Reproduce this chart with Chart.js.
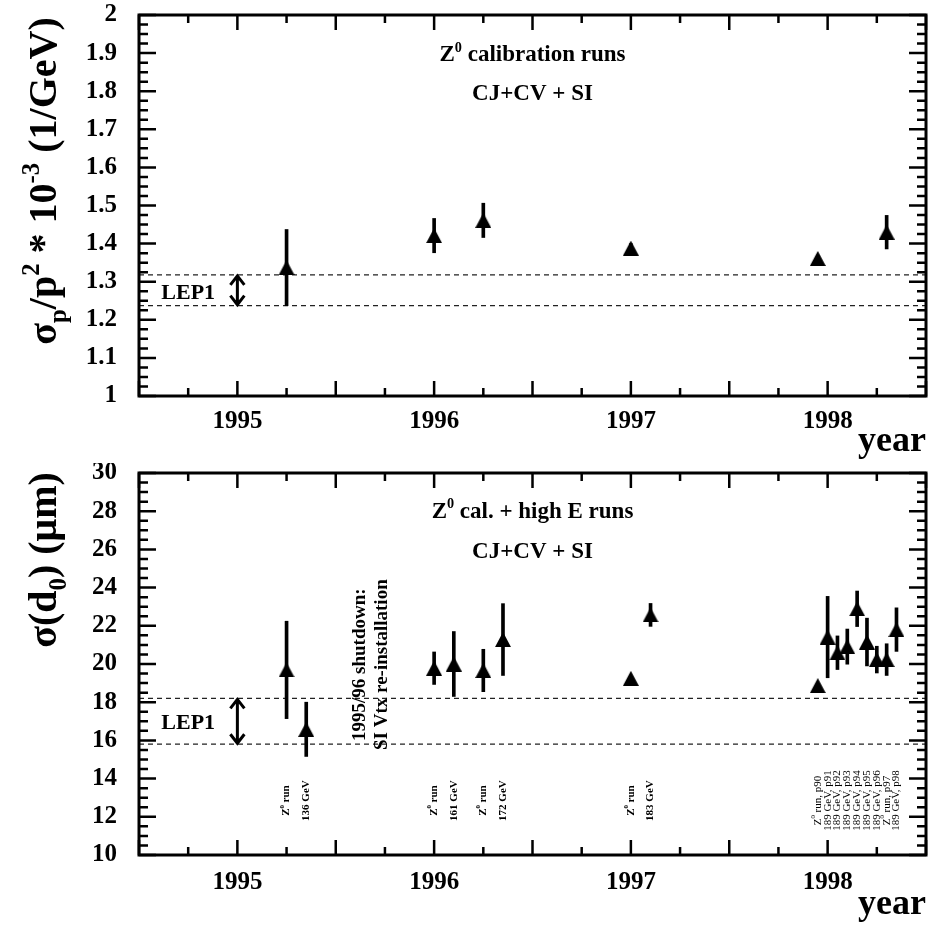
<!DOCTYPE html>
<html lang="en">
<head>
<meta charset="UTF-8">
<title>Resolution vs year</title>
<style>
  body { margin: 0; background: #fff; }
  .panel { position: absolute; left: 0; width: 929px; height: 463px; }
  #topPanel { top: 0; }
  #bottomPanel { top: 463px; }
</style>
</head>
<body>
<div class="panel" id="topPanel"><canvas id="momChart" width="929" height="463"></canvas></div>
<div class="panel" id="bottomPanel"><canvas id="d0Chart" width="929" height="463"></canvas></div>

<script src="https://cdn.jsdelivr.net/npm/chart.js"></script>
<script>
    // ---- data: momentum resolution, Z0 calibration runs ----
    const momYears = [1995.25, 1996.0, 1996.25, 1997.0, 1997.95, 1998.3];
    const momRes   = [1.337, 1.421, 1.461, 1.388, 1.361, 1.430];
    const momErr   = [0.100, 0.045, 0.045, 0.012, 0.008, 0.044];
    const momLep1  = [1.237, 1.318];
    const momTicks = [1, 1.1, 1.2, 1.3, 1.4, 1.5, 1.6, 1.7, 1.8, 1.9, 2];

    // ---- data: d0 resolution, Z0 calibration + high energy runs ----
    const d0Years = [1995.25, 1995.35, 1996.0, 1996.1, 1996.25, 1996.35, 1997.0, 1997.1,
                     1997.95, 1998.0, 1998.05, 1998.1, 1998.15, 1998.2, 1998.25, 1998.3, 1998.35];
    const d0Res   = [19.69, 16.58, 19.78, 20.0, 19.66, 21.28, 19.25, 22.57,
                     18.87, 21.41, 20.59, 20.91, 22.89, 21.15, 20.23, 20.23, 21.8];
    const d0Err   = [2.55, 1.42, 0.85, 1.7, 1.11, 1.88, 0.1, 0.6,
                     0.1, 2.13, 0.88, 0.92, 0.93, 1.25, 0.7, 0.83, 1.14];
    const d0Runs  = ['Z0 run', '136 GeV', 'Z0 run', '161 GeV', 'Z0 run', '172 GeV', 'Z0 run', '183 GeV',
                     'Z0 run, p90', '189 GeV, p91', '189 GeV, p92', '189 GeV, p93', '189 GeV, p94',
                     '189 GeV, p95', '189 GeV, p96', 'Z0 run, p97', '189 GeV, p98'];
    const d0Lep1  = [15.8, 18.2];
    const d0Ticks = [10, 12, 14, 16, 18, 20, 22, 24, 26, 28, 30];

    const yearTicks = [1995, 1996, 1997, 1998];
    const lep1Year = 1995;

    const FONT = '"Liberation Serif", "Times New Roman", serif';

    // filled triangle marker, centred on its bounding box
    const tri = document.createElement('canvas');
    tri.width = 16; tri.height = 15;
    (function () {
        const c = tri.getContext('2d');
        c.fillStyle = '#000';
        c.beginPath();
        c.moveTo(8, 0); c.lineTo(16, 15); c.lineTo(0, 15);
        c.closePath(); c.fill();
    })();

    // text with super/subscripts; parts = [[text, ''|'sup'|'sub'], ...]
    function richText(ctx, parts, x, y, size, weight, align) {
        const f = s => weight + ' ' + s + 'px ' + FONT;
        let total = 0;
        const widths = parts.map(([t, m]) => {
            ctx.font = f(m ? size * 0.62 : size);
            const w = ctx.measureText(t).width;
            total += w;
            return w;
        });
        let cx = align === 'center' ? x - total / 2 : (align === 'right' ? x - total : x);
        ctx.textAlign = 'left';
        parts.forEach(([t, m], i) => {
            ctx.font = f(m ? size * 0.62 : size);
            const dy = m === 'sup' ? -size * 0.42 : (m === 'sub' ? size * 0.25 : 0);
            ctx.fillText(t, cx, y + dy);
            cx += widths[i];
        });
    }

    function runParts(label) {
        if (label.startsWith('Z0')) return [['Z', ''], ['0', 'sup'], [label.slice(2), '']];
        return [[label, '']];
    }

    function drawFrame(chart, yMajor, yMinor) {
        const {ctx, chartArea: a, scales: {x, y}} = chart;
        ctx.save();
        ctx.strokeStyle = '#000';
        ctx.lineWidth = 2.5;
        ctx.beginPath();
        const nx = Math.round((x.max - x.min) / 0.25);
        for (let i = 0; i <= nx; i++) {
            const px = x.getPixelForValue(x.min + i * 0.25);
            const len = i % 2 === 0 ? 15 : 8;
            ctx.moveTo(px, a.bottom); ctx.lineTo(px, a.bottom - len);
            ctx.moveTo(px, a.top); ctx.lineTo(px, a.top + len);
        }
        const ny = Math.round((y.max - y.min) / yMinor);
        const per = Math.round(yMajor / yMinor);
        for (let i = 0; i <= ny; i++) {
            const py = y.getPixelForValue(y.min + i * yMinor);
            const len = i % per === 0 ? 17 : 9;
            ctx.moveTo(a.left, py); ctx.lineTo(a.left + len, py);
            ctx.moveTo(a.right, py); ctx.lineTo(a.right - len, py);
        }
        ctx.stroke();
        ctx.lineWidth = 3;
        ctx.strokeRect(a.left, a.top, a.right - a.left, a.bottom - a.top);
        ctx.restore();
    }

    function drawArrow(chart, band) {
        const {ctx, scales: {x, y}} = chart;
        const px = x.getPixelForValue(lep1Year);
        const yTop = y.getPixelForValue(band[1]);
        const yBot = y.getPixelForValue(band[0]);
        ctx.save();
        ctx.strokeStyle = '#000';
        ctx.lineWidth = 3;
        ctx.beginPath();
        ctx.moveTo(px, yTop + 1); ctx.lineTo(px, yBot - 1);
        ctx.moveTo(px - 7, yTop + 10); ctx.lineTo(px, yTop + 1); ctx.lineTo(px + 7, yTop + 10);
        ctx.moveTo(px - 7, yBot - 10); ctx.lineTo(px, yBot - 1); ctx.lineTo(px + 7, yBot - 10);
        ctx.stroke();
        ctx.restore();
    }

    function drawYTitle(chart, parts, cy) {
        const ctx = chart.ctx;
        ctx.save();
        ctx.fillStyle = '#000';
        ctx.textBaseline = 'alphabetic';
        ctx.translate(56, cy);
        ctx.rotate(-Math.PI / 2);
        richText(ctx, parts, 0, 0, 40, 'bold', 'center');
        ctx.restore();
    }

    function drawNotes(chart, notes) {
        const {ctx, scales: {x, y}} = chart;
        ctx.save();
        ctx.fillStyle = '#000';
        notes.forEach(n => {
            const px = x.getPixelForValue(n.x);
            const py = y.getPixelForValue(n.y);
            ctx.save();
            ctx.textBaseline = n.baseline || 'alphabetic';
            ctx.translate(px, py);
            if (n.rotate) ctx.rotate(-Math.PI / 2);
            richText(ctx, n.parts, 0, 0, n.size, n.weight || 'bold', n.align || 'center');
            ctx.restore();
        });
        ctx.restore();
    }

    function scalesFor(yMin, yMax, yTickList, xHeight, xPad) {
        return {
            x: {
                type: 'linear', min: 1994.5, max: 1998.5, offset: false,
                grid: { display: false, drawTicks: false },
                border: { display: false },
                afterBuildTicks: s => { s.ticks = yearTicks.map(v => ({ value: v })); },
                afterFit: s => { s.height = xHeight; s.paddingLeft = 0; s.paddingRight = 0; },
                ticks: {
                    color: '#000', padding: xPad, maxRotation: 0, autoSkip: false,
                    font: { family: FONT, size: 25, weight: 'bold', lineHeight: 1.2 },
                    callback: v => String(v)
                },
                title: {
                    display: true, text: 'year', align: 'end', color: '#000', padding: 0,
                    font: { family: FONT, size: 36, weight: 'bold', lineHeight: 1.2 }
                }
            },
            y: {
                type: 'linear', min: yMin, max: yMax,
                grid: { display: false, drawTicks: false },
                border: { display: false },
                afterBuildTicks: s => { s.ticks = yTickList.map(v => ({ value: v })); },
                afterFit: s => { s.width = 139; s.paddingTop = 0; s.paddingBottom = 0; },
                ticks: {
                    color: '#000', padding: 22, autoSkip: false,
                    font: { family: FONT, size: 25, weight: 'bold', lineHeight: 1.2 },
                    callback: v => String(+v.toFixed(2))
                }
            }
        };
    }

    function datasetsFor(xs, ys, errs, band) {
        const dashed = v => ({
            type: 'line',
            data: [{ x: 1994.5, y: v }, { x: 1998.5, y: v }],
            borderColor: '#222', borderWidth: 1.2, borderDash: [5, 4],
            pointRadius: 0, order: 2
        });
        return [
            {
                type: 'scatter',
                data: xs.map((x, i) => ({ x: x, y: ys[i] })),
                pointStyle: tri, pointRadius: 8, order: 0
            },
            {
                type: 'bar',
                data: xs.map((x, i) => ({ x: x, y: [ys[i] - errs[i], ys[i] + errs[i]] })),
                backgroundColor: '#000', barThickness: 3, grouped: false, order: 1
            },
            dashed(band[0]),
            dashed(band[1])
        ];
    }

    const baseOptions = {
        responsive: false,
        animation: false,
        plugins: { legend: { display: false }, tooltip: { enabled: false } }
    };

    // top panel
    const momNotes = [
        { parts: [['Z', ''], ['0', 'sup'], [' calibration runs', '']], x: 1996.5, y: 1.878, size: 23 },
        { parts: [['CJ+CV + SI', '']], x: 1996.5, y: 1.776, size: 23 },
        { parts: [['LEP1', '']], x: 1994.75, y: 1.255, size: 22 }
    ];
    new Chart(document.getElementById('momChart'), {
        type: 'scatter',
        data: { datasets: datasetsFor(momYears, momRes, momErr, momLep1) },
        options: Object.assign({}, baseOptions, {
            layout: { autoPadding: false, padding: { top: 15, right: 3, left: 0, bottom: 0 } },
            scales: scalesFor(1, 2, momTicks, 67, 11)
        }),
        plugins: [{
            id: 'momDecor',
            afterDraw(chart) {
                drawFrame(chart, 0.1, 0.025);
                drawArrow(chart, momLep1);
                drawNotes(chart, momNotes);
                drawYTitle(chart, [['σ', ''], ['p', 'sub'], ['/p', ''], ['2', 'sup'], [' * 10', ''],
                                   ['-3', 'sup'], [' (1/GeV)', '']], 181);
            }
        }]
    });

    // bottom panel
    const d0Notes = [
        { parts: [['Z', ''], ['0', 'sup'], [' cal. + high E runs', '']], x: 1996.5, y: 27.64, size: 23 },
        { parts: [['CJ+CV + SI', '']], x: 1996.5, y: 25.55, size: 23 },
        { parts: [['LEP1', '']], x: 1994.75, y: 16.6, size: 22 },
        { parts: [['1995/96 shutdown:', '']], x: 1995.65, y: 15.97, size: 19, rotate: true, align: 'left' },
        { parts: [['SI Vtx re-installation', '']], x: 1995.761, y: 15.5, size: 19, rotate: true, align: 'left' }
    ];
    d0Runs.forEach((label, i) => {
        d0Notes.push({
            parts: runParts(label), x: d0Years[i], y: 12.85, size: 11, rotate: true,
            baseline: 'middle', weight: label.indexOf(', p') > 0 ? 'normal' : 'bold'
        });
    });
    new Chart(document.getElementById('d0Chart'), {
        type: 'scatter',
        data: { datasets: datasetsFor(d0Years, d0Res, d0Err, d0Lep1) },
        options: Object.assign({}, baseOptions, {
            layout: { autoPadding: false, padding: { top: 10, right: 3, left: 0, bottom: 0 } },
            scales: scalesFor(10, 30, d0Ticks, 71, 13)
        }),
        plugins: [{
            id: 'd0Decor',
            afterDraw(chart) {
                drawFrame(chart, 2, 0.5);
                drawArrow(chart, d0Lep1);
                drawNotes(chart, d0Notes);
                drawYTitle(chart, [['σ(d', ''], ['0', 'sub'], [') (μm)', '']], 97);
            }
        }]
    });
</script>
</body>
</html>
